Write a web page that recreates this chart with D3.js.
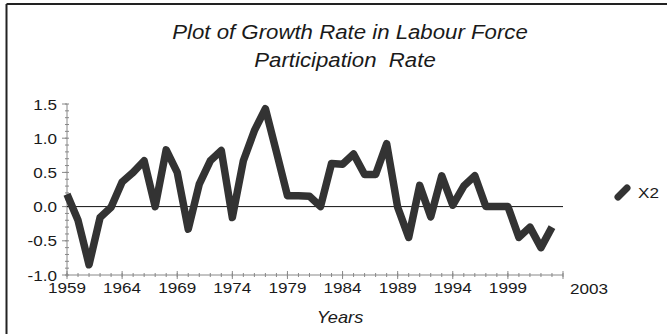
<!DOCTYPE html>
<html><head><meta charset="utf-8">
<script src="https://cdn.jsdelivr.net/npm/d3@7"></script>
<style>body{margin:0;background:#fff}svg{display:block}text{white-space:pre}</style>
</head><body>
<svg id="c" width="667" height="334"></svg>
<script>
const years = d3.range(1959, 2004);
const x2 = [0.18,-0.2,-0.85,-0.16,-0.01,0.36,0.5,0.67,0.0,0.83,0.5,-0.33,0.33,0.67,0.82,
  -0.16,0.67,1.11,1.43,0.8,0.16,0.16,0.15,0.0,0.63,0.62,0.77,0.47,0.47,0.92,
  -0.01,-0.45,0.31,-0.15,0.45,0.02,0.3,0.45,0.0,0.0,0.0,-0.45,-0.3,-0.6,-0.3];
const yTicks = [-1.0,-0.5,0.0,0.5,1.0,1.5];
const xTicks = [1959,1964,1969,1974,1979,1984,1989,1994,1999];
const lastLabel = "2003";
const titleLines = ["Plot of Growth Rate in Labour Force","Participation  Rate"];
const seriesName = "X2";

const svg = d3.select("#c");
const x = d3.scaleLinear().domain([1959, 2004]).range([67, 563]);
const y = d3.scaleLinear().domain([-1, 1.5]).range([275, 104]);
const SX = 1.14;
function stext(px, py, str, size, anchor, italic, fill){
  const g = svg.append("g").attr("transform", `translate(${px},${py}) scale(${SX},1)`);
  g.append("text").attr("text-anchor", anchor).attr("font-family","Liberation Sans, Arial, sans-serif")
    .attr("font-size", size).attr("font-style", italic ? "italic" : "normal")
    .attr("fill", fill || "#1a1a1a").text(str);
}
// frame (left & top)
svg.append("line").attr("x1",6.5).attr("x2",667).attr("y1",4).attr("y2",4).attr("stroke","#222").attr("stroke-width",2);
svg.append("line").attr("x1",6.5).attr("x2",6.5).attr("y1",4).attr("y2",334).attr("stroke","#222").attr("stroke-width",2);

// title
stext(350, 39, titleLines[0], 19.5, "middle", true);
stext(345, 67, titleLines[1], 19.5, "middle", true);

// axes
const axCol = "#888";
svg.append("line").attr("x1",x(1959)).attr("x2",x(1959)).attr("y1",y(1.5)).attr("y2",y(-1)).attr("stroke",axCol);
svg.append("line").attr("x1",x(1959)).attr("x2",x(2004)).attr("y1",y(-1)).attr("y2",y(-1)).attr("stroke",axCol);
d3.range(-10, 16).forEach(i => {
  const v = i/10;
  svg.append("line").attr("x1",x(1959)-2).attr("x2",x(1959)+2).attr("y1",y(v)).attr("y2",y(v)).attr("stroke",axCol);
});
yTicks.forEach(v => {
  svg.append("line").attr("x1",x(1959)-5).attr("x2",x(1959)).attr("y1",y(v)).attr("y2",y(v)).attr("stroke",axCol);
  stext(57, y(v)+5.5, v.toFixed(1), 15, "end", false);
});
d3.range(1959, 2005).forEach(t => {
  svg.append("line").attr("x1",x(t)).attr("x2",x(t)).attr("y1",y(-1)-2).attr("y2",y(-1)+2).attr("stroke",axCol);
});
xTicks.concat([2004]).forEach(t => {
  svg.append("line").attr("x1",x(t)).attr("x2",x(t)).attr("y1",y(-1)-4).attr("y2",y(-1)+4).attr("stroke",axCol);
});
xTicks.forEach(t => stext(x(t), 293, String(t), 15, "middle", false));
stext(x(2004)+26, 294, lastLabel, 15, "middle", false);
stext(340, 323, "Years", 16, "middle", true);

// zero line
svg.append("line").attr("x1",x(1959)).attr("x2",x(2004)).attr("y1",y(0)).attr("y2",y(0)).attr("stroke","#111").attr("stroke-width",1);

// series
svg.append("path").datum(years.map((yr,i)=>[yr,x2[i]]))
  .attr("d", d3.line().x(d=>x(d[0])).y(d=>y(d[1])))
  .attr("fill","none").attr("stroke","#333").attr("stroke-width",7.5)
  .attr("stroke-linejoin","round").attr("stroke-linecap","butt");

// legend
svg.append("line").attr("x1",618).attr("y1",197).attr("x2",627).attr("y2",188)
  .attr("stroke","#333").attr("stroke-width",7).attr("stroke-linecap","round");
stext(638, 198, seriesName, 15, "start", false);
</script>
</body></html>
